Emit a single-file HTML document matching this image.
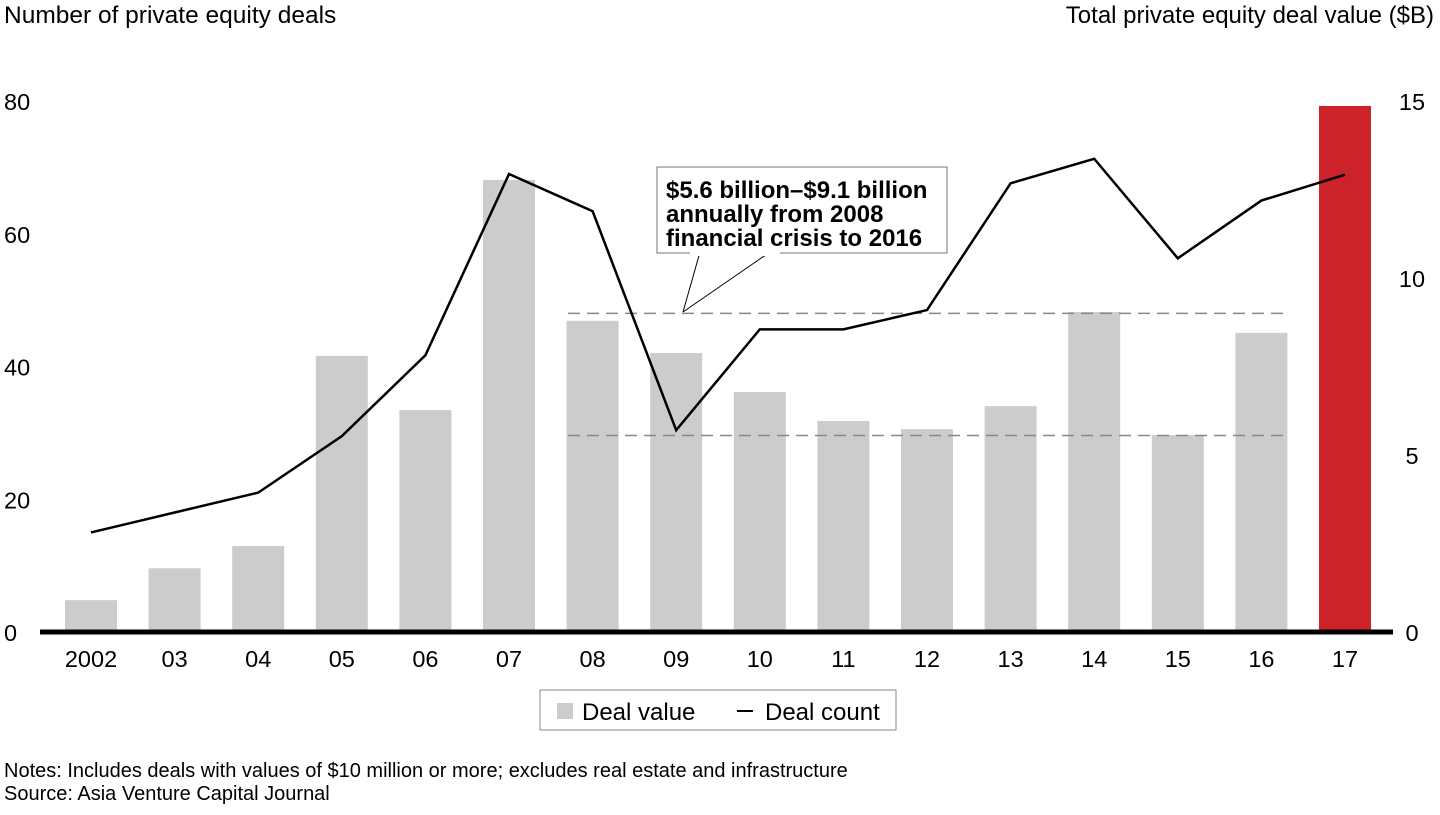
<!DOCTYPE html>
<html><head><meta charset="utf-8"><style>
body{margin:0;background:#fff;font-family:"Liberation Sans",Arial,sans-serif;}
svg text{font-family:"Liberation Sans",Arial,sans-serif;}
</style></head><body>
<svg id="c" width="1440" height="810">
<text x="4" y="23" font-size="24.5" fill="#000">Number of private equity deals</text>
<text x="1434" y="23" font-size="24" fill="#000" text-anchor="end">Total private equity deal value ($B)</text>
<g id="bars"></g><g id="grid"></g><g id="line"></g><g id="axes"></g>
<g>
<path d="M683,312 L700,252 M770,252 L683,312" stroke="#000" stroke-width="1" fill="none"/>
<rect x="657" y="167" width="290" height="86" fill="#fff" stroke="#777" stroke-width="1"/>
<rect x="690" y="250" width="90" height="6" fill="#fff"/>
<text font-size="24" font-weight="bold" fill="#000"><tspan x="666" y="198">$5.6 billion–$9.1 billion</tspan><tspan x="666" y="222">annually from 2008</tspan><tspan x="666" y="246">financial crisis to 2016</tspan></text>
</g>
<g>
<rect x="540" y="690" width="356" height="40" fill="#fff" stroke="#888"/>
<rect x="557" y="703" width="16" height="16" fill="#ccc"/>
<text x="582" y="720" font-size="24">Deal value</text>
<line x1="737" y1="711" x2="753" y2="711" stroke="#000" stroke-width="2"/>
<text x="765" y="720" font-size="24">Deal count</text>
</g>
<text x="4" y="777" font-size="20">Notes: Includes deals with values of $10 million or more; excludes real estate and infrastructure</text>
<text x="4" y="800" font-size="20">Source: Asia Venture Capital Journal</text>
</svg>
<script>
const years=["2002","03","04","05","06","07","08","09","10","11","12","13","14","15","16","17"];
const dealValue=[0.9,1.8,2.43,7.8,6.27,12.77,8.79,7.88,6.78,5.96,5.73,6.38,9.04,5.56,8.45,14.86];
const dealCount=[15,18,21,29.5,41.7,69,63.4,30.4,45.6,45.6,48.5,67.6,71.3,56.3,65,68.9];
const leftTicks=[0,20,40,60,80];
const rightTicks=[0,5,10,15];
const rangeLow=[5.55],rangeHigh=[9.0];
const NS="http://www.w3.org/2000/svg";
const y0=632,yTop=101;
const yL=v=>y0-(v/80)*(y0-yTop);
const yR=v=>y0-(v/15)*(y0-yTop);
const xC=i=>91+i*83.6;
const bw=52;
function mk(t,a,p){const e=document.createElementNS(NS,t);for(const k in a)e.setAttribute(k,a[k]);p.appendChild(e);return e;}
const bars=document.getElementById('bars');
dealValue.forEach((v,i)=>{
 const r=mk('rect',{x:xC(i)-bw/2,y:yR(v),width:bw,height:y0-yR(v),fill:i===15?'#cc2229':'#cccccc'},bars);
 
 
});
const grid=document.getElementById('grid');
[rangeLow[0],rangeHigh[0]].forEach(v=>{
 const l=mk('line',{x1:568,x2:1290,y1:yR(v),y2:yR(v),stroke:'#888','stroke-width':1.5,'stroke-dasharray':'12,7'},grid);
 
 
});
const line=document.getElementById('line');
const p=mk('polyline',{points:dealCount.map((v,i)=>xC(i)+','+yL(v)).join(' '),fill:'none',stroke:'#000','stroke-width':2.5},line);


const ax=document.getElementById('axes');
const base=mk('line',{x1:40,x2:1393,y1:y0,y2:y0,stroke:'#000','stroke-width':5},ax);


leftTicks.forEach(v=>{
 const t=mk('text',{x:4,y:yL(v)+9,'font-size':23.5},ax);t.textContent=v;
 
 
});
rightTicks.forEach(v=>{
 const t=mk('text',{x:1412,y:yR(v)+9,'font-size':23.5,'text-anchor':'middle'},ax);t.textContent=v;
 
 
});
years.forEach((y,i)=>{
 const t=mk('text',{x:xC(i),y:667,'font-size':23.5,'text-anchor':'middle'},ax);t.textContent=y;
 
 
});
</script>
</body></html>
